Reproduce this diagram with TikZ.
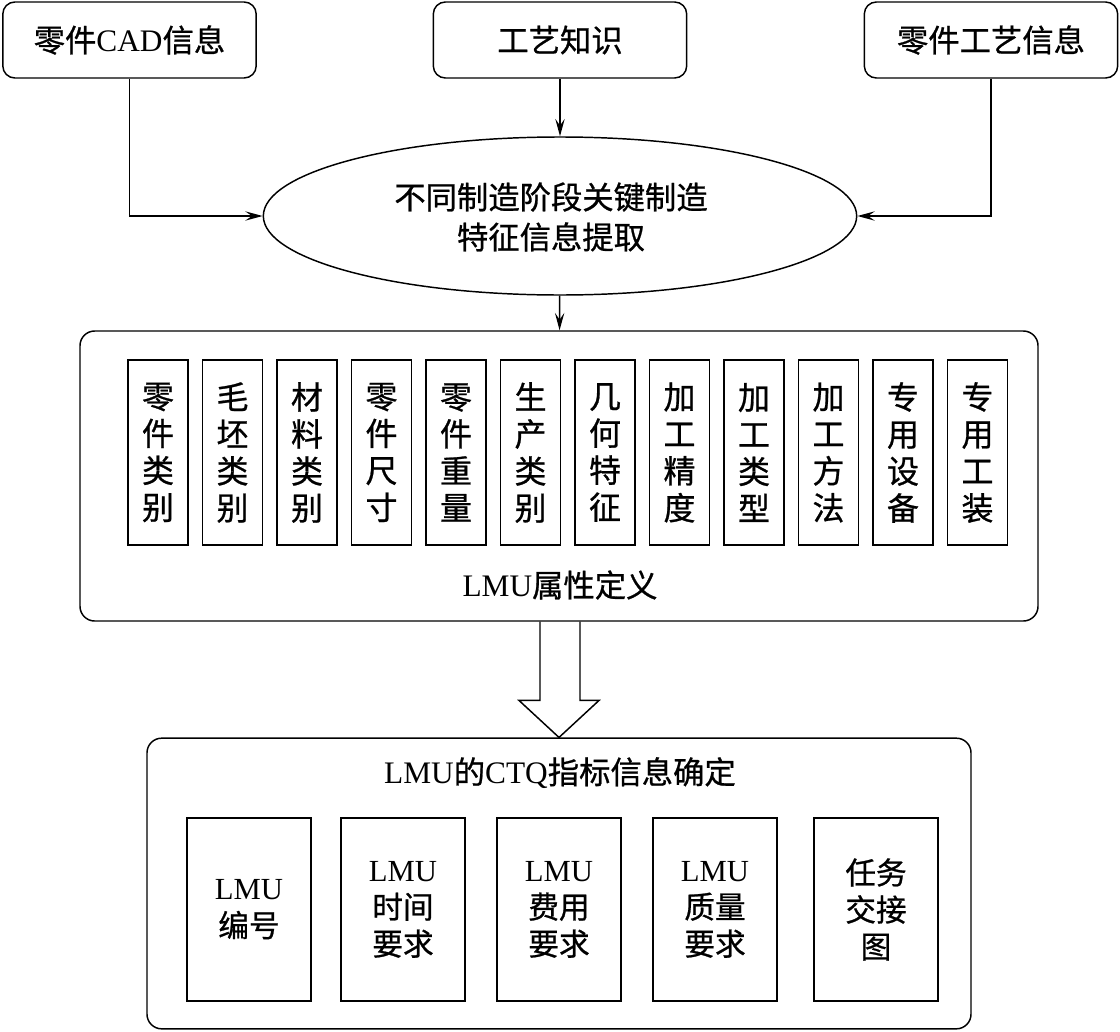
\documentclass[tikz,border=0pt]{standalone}
\usepackage{fontspec}
\setmainfont{Noto Sans CJK SC}[FakeBold=0.8]
\newfontfamily\tnr{Liberation Serif}
\usetikzlibrary{arrows.meta,shapes.geometric,calc}
\newcommand{\en}[1]{{\tnr #1}}

\begin{document}
\begin{tikzpicture}[x=0.75pt,y=-0.75pt,
  line width=1.1pt, font=\fontsize{23.5}{30}\selectfont,
  src/.style={draw, rounded corners=9pt, minimum width=190pt, minimum height=57pt},
  grp/.style={draw, rounded corners=11pt, inner sep=0pt},
  vb/.style={draw, minimum width=45pt, minimum height=139pt, inner sep=0pt, align=center, font=\fontsize{24}{27.75}\selectfont},
  cb/.style={draw, minimum width=93pt, minimum height=137pt, inner sep=0pt, align=center, font=\fontsize{23}{27.75}\selectfont},
  >={Stealth[length=13pt,width=7pt,inset=5pt]}]
  \useasboundingbox (0,0) rectangle (1120,1031);
  \node[src] (cad) at (129.5,40) {零件\en{CAD}信息};
  \node[src] (know) at (560,40) {工艺知识};
  \node[src] (proc) at (991,40) {零件工艺信息};
  \node[draw, ellipse, inner sep=0pt, minimum width=445pt, minimum height=118.5pt] (ext) at (560,216) {};
  \node[align=center] (extlbl) at (551,217) {不同制造阶段关键制造\\特征信息提取};
  \draw[->] (cad.south) |- (ext.west);
  \draw[->] (know) -- (ext);
  \draw[->] (proc.south) |- (ext.east);
  % attribute group
  \node[grp, minimum width=718.5pt, minimum height=217.5pt] (attr) at (559,476) {};
  \foreach \t [count=\i] in {{零\\件\\类\\别},{毛\\坯\\类\\别},{材\\料\\类\\别},{零\\件\\尺\\寸},
      {零\\件\\重\\量},{生\\产\\类\\别},{几\\何\\特\\征},{加\\工\\精\\度},
      {加\\工\\类\\型},{加\\工\\方\\法},{专\\用\\设\\备},{专\\用\\工\\装}}
    \node[vb] (a\i) at (158+74.5*\i-74.5,452.5) {\t};
  \node (attrlbl) at (560,585) {\en{LMU}属性定义};
  \draw[->] (ext) -- (attr);
  % CTQ group
  \node[grp, minimum width=618pt, minimum height=218pt] (ctq) at (559,883.5) {};
  \node (ctqlbl) at (560,773) {\en{LMU}的\en{CTQ}指标信息确定};
  \node[cb] (c1) at (249,909.5) {\en{LMU}\\编号};
  \node[cb] (c2) at (403,909.5) {\en{LMU}\\时间\\要求};
  \node[cb] (c3) at (559,909.5) {\en{LMU}\\费用\\要求};
  \node[cb] (c4) at (715,909.5) {\en{LMU}\\质量\\要求};
  \node[cb] (c5) at (876,909.5) {任务\\交接\\图};
  % hollow arrow
  \draw ($(attr.south)+(-19,0)$) |- ($(ctq.north)+(-40,-37)$) -- (ctq.north)
    -- ($(ctq.north)+(40,-37)$) -| ($(attr.south)+(21,0)$);
\end{tikzpicture}
\end{document}
